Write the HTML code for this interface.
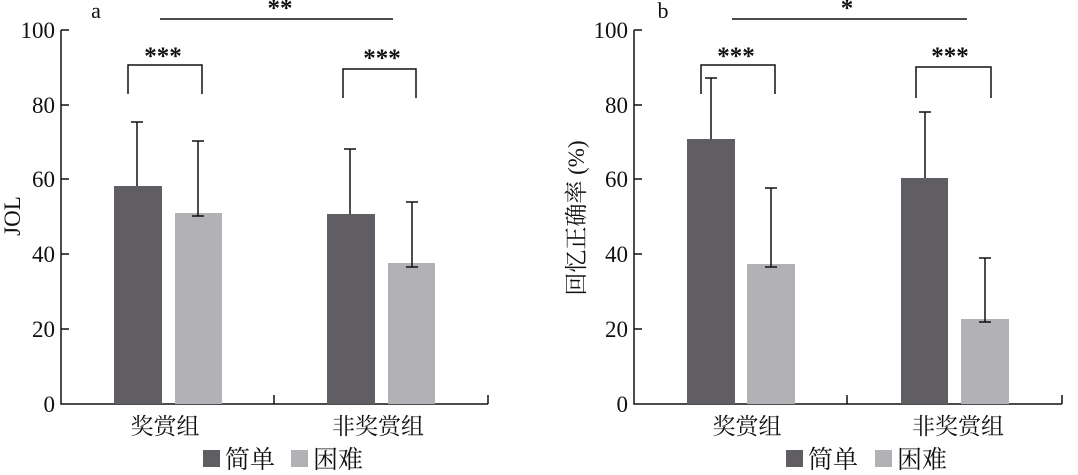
<!DOCTYPE html>
<html><head><meta charset="utf-8"><style>
html,body{margin:0;padding:0;background:#fff;}
svg text{font-family:"Liberation Serif","Noto Serif CJK SC","Noto Sans CJK SC",serif;fill:#111;}
</style></head><body>
<svg width="1078" height="470" viewBox="0 0 1078 470" xmlns="http://www.w3.org/2000/svg">
<g stroke="#111" stroke-width="1.5" fill="none">
<path d="M61,30 V404 H488 M274,404 V395 M488,404 V395"/>
<path d="M61,30 H69 M61,105 H69 M61,179 H69 M61,254 H69 M61,329 H69"/>
<path d="M634,30 V404 H1062 M847,404 V395 M1062,404 V395"/>
<path d="M634,30 H642 M634,105 H642 M634,179 H642 M634,254 H642 M634,329 H642"/>
</g>
<rect x="114" y="186" width="48" height="218" fill="#605e62"/>
<rect x="175" y="213" width="47" height="191" fill="#b2b1b5"/>
<rect x="327" y="214" width="48" height="190" fill="#605e62"/>
<rect x="388" y="263" width="47" height="141" fill="#b2b1b5"/>
<rect x="687" y="139" width="48" height="265" fill="#605e62"/>
<rect x="747" y="264" width="48" height="140" fill="#b2b1b5"/>
<rect x="901" y="178" width="47" height="226" fill="#605e62"/>
<rect x="961" y="319" width="48" height="85" fill="#b2b1b5"/>
<g stroke="#111" stroke-width="1.5" fill="none">
<path d="M137,186 V122 M131,122 H143"/>
<path d="M198,216 V141 M192,141 H204 M192,216 H204"/>
<path d="M350,214 V149 M344,149 H356"/>
<path d="M412,267 V202 M406,202 H418 M406,267 H418"/>
<path d="M711,139 V78 M705,78 H717"/>
<path d="M771,267 V188 M765,188 H777 M765,267 H777"/>
<path d="M925,178 V112 M919,112 H931"/>
<path d="M985,322 V258 M979,258 H991 M979,322 H991"/>
<path d="M128,94 V65 H202 V94"/>
<path d="M343,98 V69 H416 V98"/>
<path d="M701,94 V65 H775 V94"/>
<path d="M916,98 V67 H991 V98"/>
<path d="M160,19 H393"/>
<path d="M732,19 H967"/>
</g>
<g font-size="23" text-anchor="end">
<text x="55" y="412">0</text><text x="55" y="337">20</text><text x="55" y="262">40</text><text x="55" y="187">60</text><text x="55" y="113">80</text><text x="55" y="38">100</text>
<text x="628" y="412">0</text><text x="628" y="337">20</text><text x="628" y="262">40</text><text x="628" y="187">60</text><text x="628" y="113">80</text><text x="628" y="38">100</text>
</g>
<g font-size="25" font-weight="bold" text-anchor="middle">
<text x="163" y="64">***</text><text x="382" y="66">***</text><text x="280" y="16">**</text>
<text x="736" y="64">***</text><text x="950" y="64">***</text><text x="847" y="16">*</text>
</g>
<text x="96" y="18" font-size="22" text-anchor="middle">a</text>
<text x="663" y="18" font-size="22" text-anchor="middle">b</text>
<text transform="translate(20,216) rotate(-90)" font-size="23" text-anchor="middle">JOL</text>
<text transform="translate(584,218) rotate(-90)" font-size="23" text-anchor="middle">回忆正确率 (%)</text>
<g font-size="23" text-anchor="middle">
<text x="165" y="434">奖赏组</text><text x="378" y="434">非奖赏组</text>
<text x="747" y="434">奖赏组</text><text x="958" y="434">非奖赏组</text>
</g>
<rect x="203" y="450" width="17" height="17" fill="#605e62"/>
<rect x="291" y="450" width="17" height="17" fill="#b2b1b5"/>
<rect x="786" y="450" width="17" height="17" fill="#605e62"/>
<rect x="875" y="450" width="17" height="17" fill="#b2b1b5"/>
<g font-size="25">
<text x="225" y="468">简单</text><text x="313" y="468">困难</text>
<text x="808" y="468">简单</text><text x="897" y="468">困难</text>
</g>
</svg>
</body></html>
